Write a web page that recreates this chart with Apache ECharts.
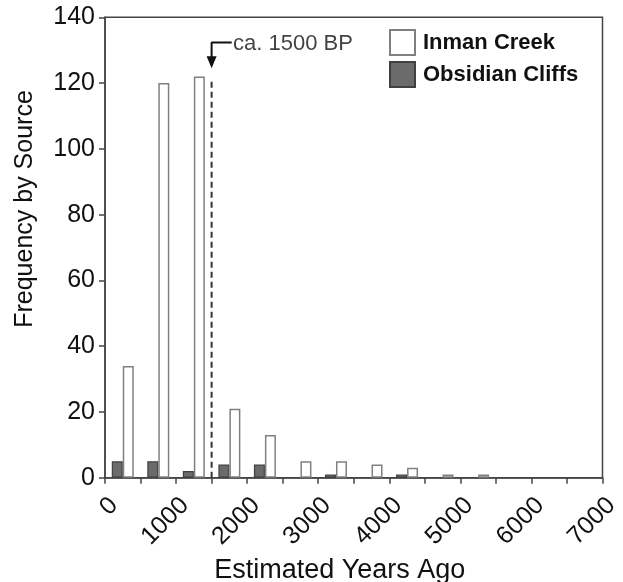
<!DOCTYPE html>
<html><head><meta charset="utf-8">
<script src="https://cdn.jsdelivr.net/npm/echarts@6/dist/echarts.min.js"></script>
<style>html,body{margin:0;padding:0;background:#fff}#c{width:623px;height:582px}</style>
</head><body><div id="c"></div>
<script>
// Bin centres (500-year bins) in years before present
const binCenters = [250, 750, 1250, 1750, 2250, 2750, 3250, 3750, 4250, 4750, 5250, 5750, 6250, 6750];
const inmanCreek = [34, 120, 122, 21, 13, 5, 5, 4, 3, 1, 1, 0, 0, 0];
const obsidianCliffs = [5, 5, 2, 4, 4, 0, 1, 0, 1, 0, 0, 0, 0, 0];
const xTickLabels = [0, 1000, 2000, 3000, 4000, 5000, 6000, 7000];
const seriesNames = ['Inman Creek', 'Obsidian Cliffs'];
// Annotation (data space)
const markerYear = 1500;
const markerTop = 121.5;
const arrowPath = [[1783, 132.3], [1500, 132.3], [1500, 126.3]];
const markerText = 'ca. 1500 BP';
const markerTextAt = [1801, 131.9];

const FONT = '"Liberation Sans", Arial, sans-serif';
const chart = echarts.init(document.getElementById('c'), null, {renderer: 'canvas'});
// empty bins (count 0) draw no bar
const pair = (xs, ys) => xs.map((x, i) => [x, ys[i] === 0 ? null : ys[i]]);

chart.setOption({
  animation: false,
  backgroundColor: '#fff',
  grid: {left: 105, right: 20.5, top: 17.3, bottom: 104.3, containLabel: false, outerBoundsMode: 'none',
    show: true, borderColor: '#444', borderWidth: 1.5, backgroundColor: 'transparent'},
  legend: {
    data: seriesNames, orient: 'vertical', left: 389, top: 29, padding: 0,
    itemWidth: 25, itemHeight: 25, itemGap: 5, icon: 'rect',
    textStyle: {fontFamily: FONT, fontWeight: 'bold', fontSize: 22, color: '#111', padding: [0, 0, 0, 3]}
  },
  xAxis: {
    type: 'value', min: 0, max: 7000, interval: 500,
    name: 'Estimated Years Ago', nameLocation: 'middle', nameGap: 74,
    nameTextStyle: {fontFamily: FONT, fontSize: 27, color: '#111', padding: [0, 28, 0, 0]},
    axisLine: {show: true, lineStyle: {color: '#444', width: 1.5}},
    axisTick: {show: true, length: 6, lineStyle: {color: '#444', width: 1.5}},
    splitLine: {show: false},
    axisLabel: {
      rotate: 45, margin: 15, verticalAlign: 'top', fontFamily: FONT, fontSize: 25, color: '#111',
      formatter: v => xTickLabels.indexOf(v) >= 0 ? String(v) : ''
    }
  },
  yAxis: {
    type: 'value', min: 0, max: 140, interval: 20,
    name: 'Frequency by Source', nameLocation: 'middle', nameGap: 67,
    nameTextStyle: {fontFamily: FONT, fontSize: 25, color: '#111', padding: [0, 0, 0, 77]},
    axisLine: {show: true, lineStyle: {color: '#444', width: 1.5}},
    axisTick: {show: true, length: 6, lineStyle: {color: '#444', width: 1.5}},
    splitLine: {show: false},
    axisLabel: {margin: 10, fontFamily: FONT, fontSize: 25, color: '#111'}
  },
  series: [
    {
      name: seriesNames[1], type: 'bar', barWidth: 11, barGap: '0%',
      data: pair(binCenters, obsidianCliffs),
      itemStyle: {color: '#6b6b6b', borderColor: '#404040', borderWidth: 1.2}
    },
    {
      name: seriesNames[0], type: 'bar', barWidth: 11, barGap: '0%',
      data: pair(binCenters, inmanCreek),
      itemStyle: {color: '#ffffff', borderColor: '#808080', borderWidth: 1.5}
    },
    {
      type: 'line', silent: true, symbol: 'none', z: 5,
      data: [[markerYear, 0], [markerYear, markerTop]],
      lineStyle: {color: '#333', width: 2, type: [6, 4]}
    },
    {
      type: 'line', silent: true, z: 6,
      data: arrowPath.map((p, i) => i === arrowPath.length - 1
        ? {value: p, symbol: 'triangle', symbolSize: [10, 12], symbolRotate: 180, itemStyle: {color: '#111'}}
        : {value: p, symbol: 'none'}),
      lineStyle: {color: '#111', width: 2}
    },
    {
      type: 'scatter', silent: true, symbolSize: 0,
      data: [markerTextAt],
      label: {show: true, position: 'right', distance: 0, formatter: markerText,
        fontFamily: FONT, fontSize: 22, color: '#111'}
    }
  ]
});
</script>
</body></html>
